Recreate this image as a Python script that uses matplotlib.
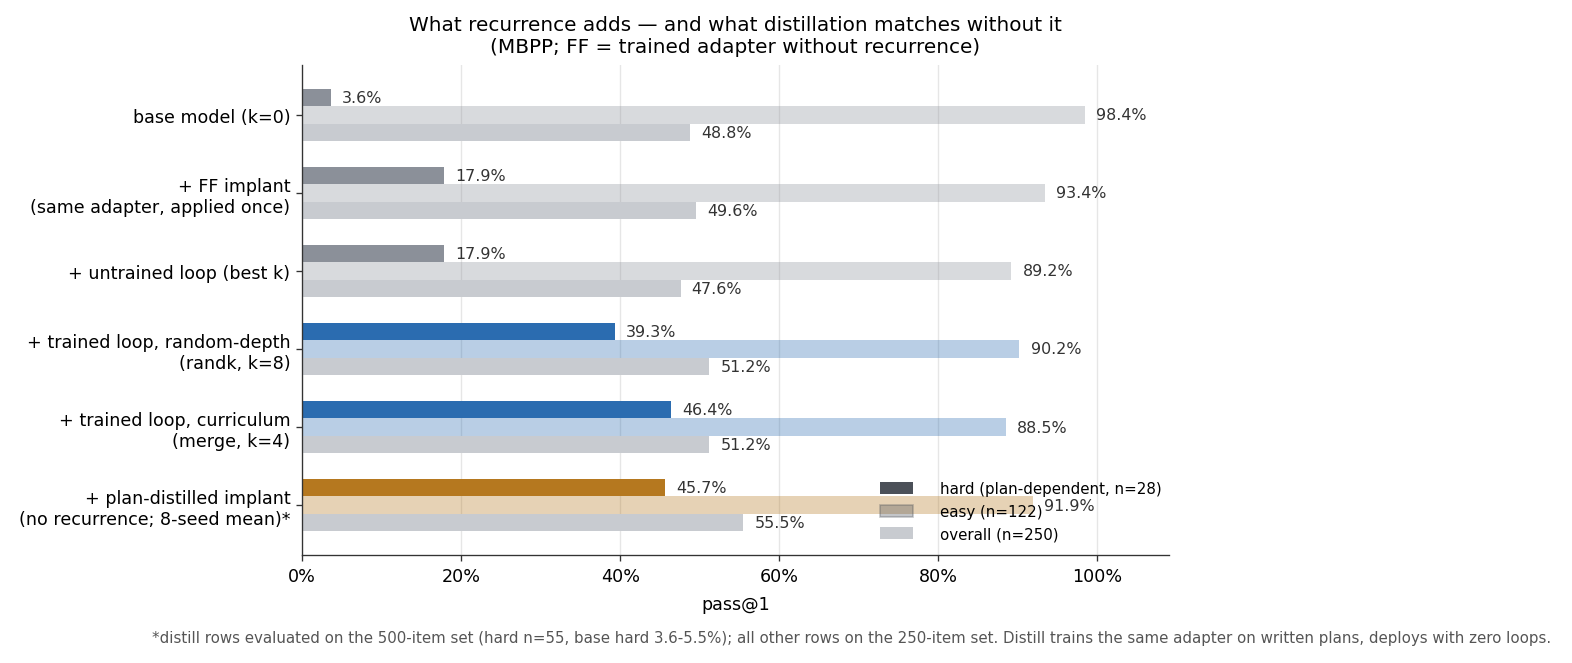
import numpy as np
import matplotlib.pyplot as plt
from matplotlib.patches import Patch

# data
rows = ['base model (k=0)',
        '+ FF implant\n(same adapter, applied once)',
        '+ untrained loop (best k)',
        '+ trained loop, random-depth\n(randk, k=8)',
        '+ trained loop, curriculum\n(merge, k=4)',
        '+ plan-distilled implant\n(no recurrence; 8-seed mean)*']
hard = [3.6, 17.9, 17.9, 39.3, 46.4, 45.7]
easy = [98.4, 93.4, 89.2, 90.2, 88.5, 91.9]
overall = [48.8, 49.6, 47.6, 51.2, 51.2, 55.5]
row_colors = ['#8b9099', '#8b9099', '#8b9099', '#2b6cb0', '#2b6cb0', '#b5781f']

fig, ax = plt.subplots(figsize=(13.1, 5.5333), dpi=120)
fig.subplots_adjust(left=0.1921, right=0.7436, top=0.9006, bottom=0.1627)

y = np.arange(len(rows))
h = 0.22
ax.set_axisbelow(True)
ax.grid(axis='x', color='#e6e6e6', lw=0.8)

for i in range(len(rows)):
    c = row_colors[i]
    ax.barh(y[i] - h, hard[i], height=h, color=c)
    ax.barh(y[i], easy[i], height=h, color=c, alpha=0.33)
    ax.barh(y[i] + h, overall[i], height=h, color='#c8cbd0')
    for off, v in [(-h, hard[i]), (0, easy[i]), (h, overall[i])]:
        ax.text(v + 1.4, y[i] + off, f'{v:.1f}%', va='center', ha='left',
                fontsize=9.5, color='#333333')

ax.set_yticks(y)
ax.set_yticklabels(rows, fontsize=10.5)
ax.set_ylim(len(rows) - 1 + 0.64, -0.64)
ax.set_xlim(0, 109)
ax.set_xticks(np.arange(0, 101, 20))
ax.set_xticklabels([f'{t}%' for t in range(0, 101, 20)], fontsize=10.5)
ax.set_xlabel('pass@1', fontsize=10.5, labelpad=6)
ax.spines['top'].set_visible(False)
ax.spines['right'].set_visible(False)
for s in ['left', 'bottom']:
    ax.spines[s].set_color('#333333')
ax.tick_params(color='#333333')
ax.set_title('What recurrence adds \u2014 and what distillation matches without it\n'
             '(MBPP; FF = trained adapter without recurrence)', fontsize=12, pad=8)

handles = [Patch(facecolor='#4b5058', label='hard (plan-dependent, n=28)'),
           Patch(facecolor='#4b5058', edgecolor='#4b5058', alpha=0.33, label='easy (n=122)'),
           Patch(facecolor='#c8cbd0', label='overall (n=250)')]
ax.legend(handles=handles, loc='lower right', frameon=False, fontsize=9,
          handlelength=2.2, handleheight=0.85, handletextpad=1.8,
          bbox_to_anchor=(1.007, 0.0))

fig.text(0.987, 0.039, '*distill rows evaluated on the 500-item set (hard n=55, base hard 3.6-5.5%); '
         'all other rows on the 250-item set. Distill trains the same adapter on written plans, '
         'deploys with zero loops.', ha='right', va='center', fontsize=9, color='#555555')

plt.savefig('out.png', dpi=120)
